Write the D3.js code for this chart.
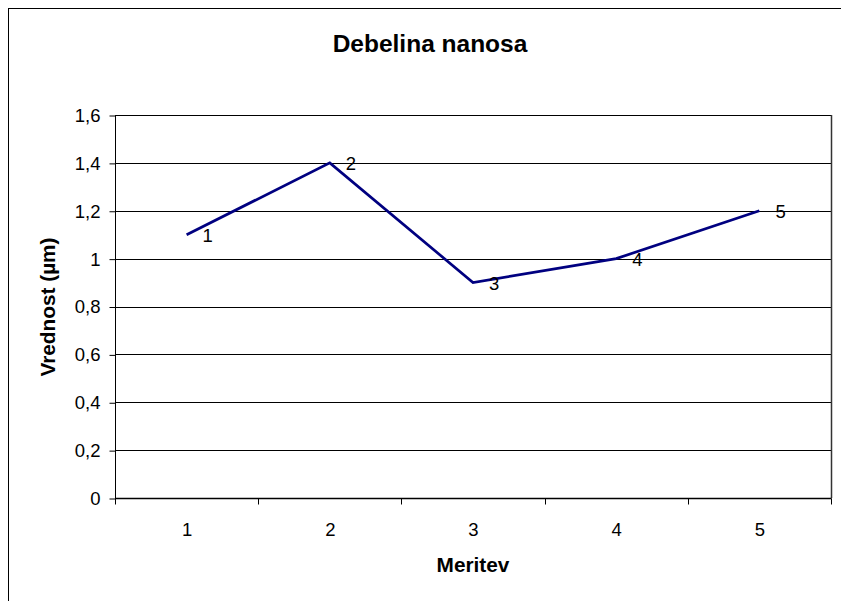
<!DOCTYPE html>
<html>
<head>
<meta charset="utf-8">
<script src="https://cdn.jsdelivr.net/npm/d3@7"></script>
<style>
  html, body { margin: 0; padding: 0; background: #fff; }
  svg { display: block; font-family: "Liberation Sans", Arial, sans-serif; }
</style>
</head>
<body>
<svg id="chart" width="841" height="601"></svg>
<script>
// Measurement data
const categories = ["1", "2", "3", "4", "5"];
const values = [1.1, 1.4, 0.9, 1.0, 1.2];
const pointLabels = ["1", "2", "3", "4", "5"];
const yTicks = [0, 0.2, 0.4, 0.6, 0.8, 1.0, 1.2, 1.4, 1.6];

const svg = d3.select("#chart");
const plot = { left: 115, top: 115, right: 831, bottom: 498 };
const tickFont = 18.5;

// Outer chart frame
svg.append("rect")
  .attr("x", 8.5).attr("y", 8.5)
  .attr("width", 900).attr("height", 700)
  .attr("fill", "#fff").attr("stroke", "#000").attr("stroke-width", 1);

const x = d3.scaleBand().domain(categories).range([plot.left, plot.right]).padding(0);
const y = d3.scaleLinear().domain([0, 1.6]).range([plot.bottom, plot.top]);

const fmt = d => d3.format("~g")(d).replace(".", ",");

// Horizontal gridlines
svg.append("g")
  .selectAll("line")
  .data(yTicks)
  .join("line")
  .attr("x1", plot.left).attr("x2", plot.right)
  .attr("y1", d => Math.round(y(d)) + 0.5).attr("y2", d => Math.round(y(d)) + 0.5)
  .attr("stroke", "#000").attr("stroke-width", 1);

// Plot area border (right edge)
svg.append("line")
  .attr("x1", plot.right + 0.5).attr("x2", plot.right + 0.5)
  .attr("y1", plot.top).attr("y2", plot.bottom)
  .attr("stroke", "#333").attr("stroke-width", 1.5);

// Y axis
const yAxis = svg.append("g")
  .attr("transform", `translate(${plot.left + 0.5},0.5)`)
  .call(d3.axisLeft(y).tickValues(yTicks).tickFormat(fmt).tickSize(6).tickPadding(9));
yAxis.attr("font-size", tickFont).attr("font-family", "Liberation Sans, Arial, sans-serif");
yAxis.select(".domain").attr("stroke", "#000").attr("d", `M0,${plot.top}V${plot.bottom}`);
yAxis.selectAll("text").attr("fill", "#000");

// X axis: ticks between categories
const xAxis = svg.append("g")
  .attr("transform", `translate(0.5,${Math.round(plot.bottom) + 0.5})`)
  .attr("font-size", tickFont);
xAxis.append("line")
  .attr("x1", plot.left).attr("x2", plot.right)
  .attr("stroke", "#000").attr("stroke-width", 1.5);
const boundaries = categories.map(c => x(c)).concat([x(categories[categories.length - 1]) + x.bandwidth()]);
xAxis.selectAll("line.tick")
  .data(boundaries)
  .join("line")
  .attr("class", "tick")
  .attr("x1", d => Math.round(d)).attr("x2", d => Math.round(d))
  .attr("y1", 0).attr("y2", 6)
  .attr("stroke", "#000");
xAxis.selectAll("text")
  .data(categories)
  .join("text")
  .attr("x", d => x(d) + x.bandwidth() / 2)
  .attr("y", 37)
  .attr("text-anchor", "middle")
  .text(d => d);

// Data line
const line = d3.line()
  .x((d, i) => x(categories[i]) + x.bandwidth() / 2)
  .y(d => y(d));
svg.append("path")
  .datum(values)
  .attr("d", line)
  .attr("fill", "none")
  .attr("stroke", "#000080")
  .attr("stroke-width", 2.7)
  .attr("stroke-linejoin", "miter");

// Point labels
svg.append("g")
  .attr("font-size", tickFont)
  .selectAll("text")
  .data(values)
  .join("text")
  .attr("x", (d, i) => x(categories[i]) + x.bandwidth() / 2 + 16)
  .attr("y", d => y(d) + 7)
  .attr("fill", "#000")
  .text((d, i) => pointLabels[i]);

// Titles
svg.append("text")
  .attr("x", 430).attr("y", 52)
  .attr("text-anchor", "middle")
  .attr("font-size", 24.5).attr("font-weight", "bold")
  .text("Debelina nanosa");

svg.append("text")
  .attr("x", 473).attr("y", 572)
  .attr("text-anchor", "middle")
  .attr("font-size", 20.8).attr("font-weight", "bold")
  .text("Meritev");

svg.append("text")
  .attr("transform", "translate(55,307) rotate(-90)")
  .attr("text-anchor", "middle")
  .attr("font-size", 20.8).attr("font-weight", "bold")
  .text("Vrednost (µm)");
</script>
</body>
</html>
